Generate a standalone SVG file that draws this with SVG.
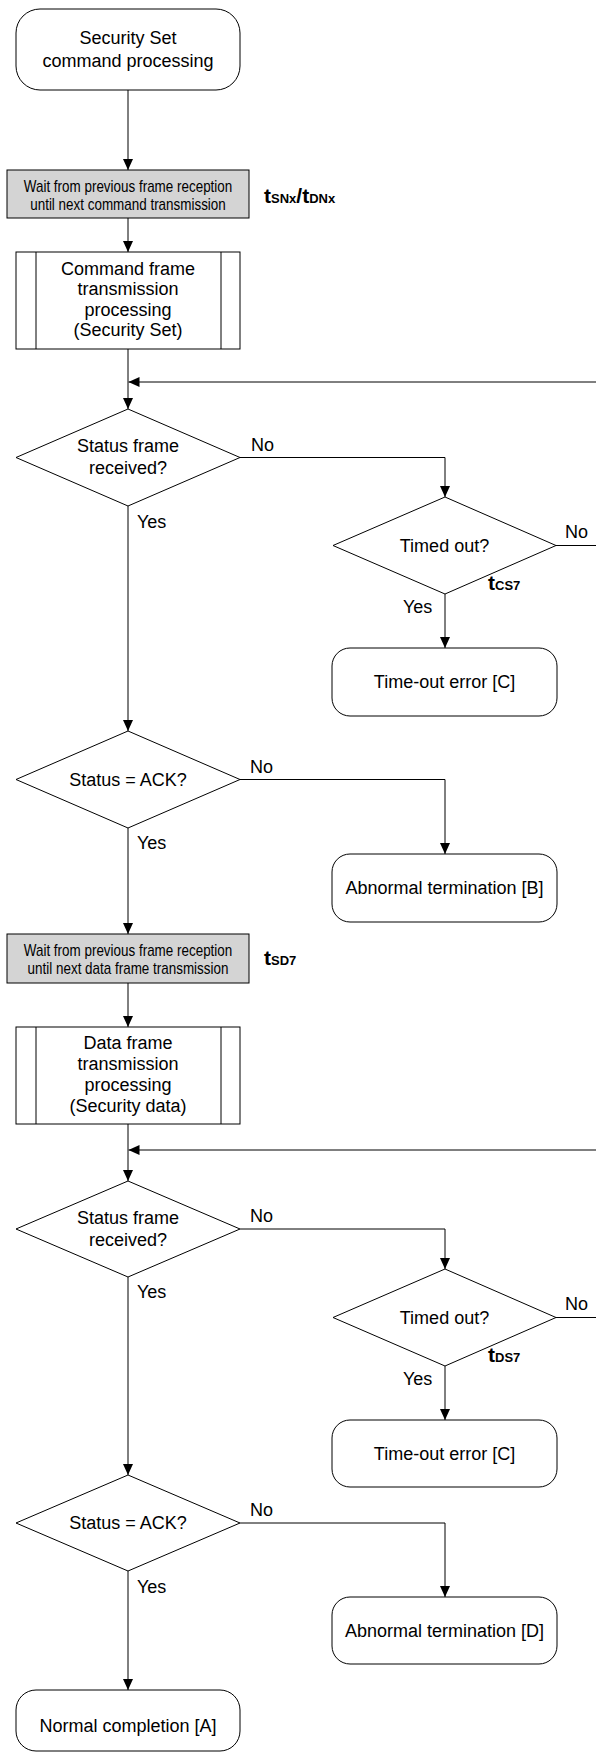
<svg xmlns="http://www.w3.org/2000/svg" width="596" height="1753" viewBox="0 0 596 1753">
<style>
  .shape { fill: #ffffff; stroke: #000000; stroke-width: 1; }
  .gray { fill: #d4d4d4; stroke: #000000; stroke-width: 1; }
  .conn { fill: none; stroke: #000000; stroke-width: 1; marker-end: url(#arrow); }
  .line { fill: none; stroke: #000000; stroke-width: 1; }
  .t { font-family: "Liberation Sans", Arial, sans-serif; font-size: 18px; fill: #000000; text-anchor: middle; }
  .lbl { font-family: "Liberation Sans", Arial, sans-serif; font-size: 18px; fill: #000000; }
  .w { font-family: "Liberation Sans", Arial, sans-serif; font-size: 16px; fill: #000000; text-anchor: middle; }
  .tm { font-family: "Liberation Sans", Arial, sans-serif; font-weight: bold; fill: #000000; }
  .big { font-size: 21px; }
  .sm { font-size: 13px; }
</style>
<defs>
  <marker id="arrow" markerUnits="userSpaceOnUse" markerWidth="11" markerHeight="10" refX="11" refY="5" orient="auto">
    <path d="M0,0 L11,5 L0,10 z" fill="#000000"/>
  </marker>
</defs>

<g id="connectors">
  <path class="conn" d="M128,90 V170"/>
  <path class="conn" d="M128,218 V252"/>
  <path class="conn" d="M128,349 V409"/>
  <path class="conn" d="M240,457.5 H445 V497"/>
  <path class="conn" d="M556,545.5 H598 V382 H128.5"/>
  <path class="conn" d="M445,594 V648"/>
  <path class="conn" d="M128,506 V731"/>
  <path class="conn" d="M240,779.5 H445 V854"/>
  <path class="conn" d="M128,828 V934"/>
  <path class="conn" d="M128,983 V1027"/>
  <path class="conn" d="M128,1124 V1181"/>
  <path class="conn" d="M240,1229 H445 V1269"/>
  <path class="conn" d="M556,1317.5 H598 V1150 H128.5"/>
  <path class="conn" d="M445,1366 V1420"/>
  <path class="conn" d="M128,1277 V1475"/>
  <path class="conn" d="M240,1523 H445 V1597"/>
  <path class="conn" d="M128,1571 V1690"/>
  <text class="lbl" x="251" y="450.5">No</text>
  <text class="lbl" x="137" y="528">Yes</text>
  <text class="lbl" x="565" y="538">No</text>
  <text class="lbl" x="403" y="613">Yes</text>
  <text class="lbl" x="250" y="772.5">No</text>
  <text class="lbl" x="137" y="849">Yes</text>
  <text class="lbl" x="250" y="1222">No</text>
  <text class="lbl" x="137" y="1298">Yes</text>
  <text class="lbl" x="565" y="1310">No</text>
  <text class="lbl" x="403" y="1385">Yes</text>
  <text class="lbl" x="250" y="1516">No</text>
  <text class="lbl" x="137" y="1593">Yes</text>
</g>

<g id="start">
  <rect class="shape" x="16" y="9" width="224" height="81" rx="24" ry="24"/>
  <text class="t" x="128" y="43.5">Security Set</text>
  <text class="t" x="128" y="66.5">command processing</text>
</g>

<g id="wait1">
  <rect class="gray" x="7" y="170" width="242" height="48"/>
  <text class="w" transform="translate(128,191.5) scale(0.84,1)" x="0" y="0">Wait from previous frame reception</text>
  <text class="w" transform="translate(128,210) scale(0.84,1)" x="0" y="0">until next command transmission</text>
  <text class="tm" x="264" y="203"><tspan class="big">t</tspan><tspan class="sm">SNx</tspan><tspan class="big">/t</tspan><tspan class="sm">DNx</tspan></text>
</g>

<g id="cmdframe">
  <rect class="shape" x="16" y="252" width="224" height="97"/>
  <line class="line" x1="36" y1="252" x2="36" y2="349"/>
  <line class="line" x1="221" y1="252" x2="221" y2="349"/>
  <text class="t" x="128" y="274.5">Command frame</text>
  <text class="t" x="128" y="295">transmission</text>
  <text class="t" x="128" y="315.5">processing</text>
  <text class="t" x="128" y="336">(Security Set)</text>
</g>

<g id="status1">
  <polygon class="shape" points="128,409 240,457.5 128,506 16,457.5"/>
  <text class="t" x="128" y="452">Status frame</text>
  <text class="t" x="128" y="474">received?</text>
</g>

<g id="timeout1">
  <polygon class="shape" points="445,497 556,545.5 445,594 333,545.5"/>
  <text class="t" x="444.5" y="551.5">Timed out?</text>
  <text class="tm" x="488" y="590"><tspan class="big">t</tspan><tspan class="sm">CS7</tspan></text>
</g>

<g id="terr1">
  <rect class="shape" x="332" y="648" width="225" height="68" rx="18" ry="18"/>
  <text class="t" x="444.5" y="688">Time-out error [C]</text>
</g>

<g id="ack1">
  <polygon class="shape" points="128,731 240,779.5 128,828 16,779.5"/>
  <text class="t" x="128" y="786">Status = ACK?</text>
</g>

<g id="abnB">
  <rect class="shape" x="332" y="854" width="225" height="68" rx="18" ry="18"/>
  <text class="t" x="444.5" y="893.5">Abnormal termination [B]</text>
</g>

<g id="wait2">
  <rect class="gray" x="7" y="934" width="242" height="49"/>
  <text class="w" transform="translate(128,955.5) scale(0.84,1)" x="0" y="0">Wait from previous frame reception</text>
  <text class="w" transform="translate(128,974) scale(0.84,1)" x="0" y="0">until next data frame transmission</text>
  <text class="tm" x="264" y="965"><tspan class="big">t</tspan><tspan class="sm">SD7</tspan></text>
</g>

<g id="dataframe">
  <rect class="shape" x="16" y="1027" width="224" height="97"/>
  <line class="line" x1="36" y1="1027" x2="36" y2="1124"/>
  <line class="line" x1="221" y1="1027" x2="221" y2="1124"/>
  <text class="t" x="128" y="1048.5">Data frame</text>
  <text class="t" x="128" y="1069.5">transmission</text>
  <text class="t" x="128" y="1090.5">processing</text>
  <text class="t" x="128" y="1111.5">(Security data)</text>
</g>

<g id="status2">
  <polygon class="shape" points="128,1181 240,1229 128,1277 16,1229"/>
  <text class="t" x="128" y="1223.5">Status frame</text>
  <text class="t" x="128" y="1245.5">received?</text>
</g>

<g id="timeout2">
  <polygon class="shape" points="445,1269 556,1317.5 445,1366 333,1317.5"/>
  <text class="t" x="444.5" y="1323.5">Timed out?</text>
  <text class="tm" x="488" y="1362"><tspan class="big">t</tspan><tspan class="sm">DS7</tspan></text>
</g>

<g id="terr2">
  <rect class="shape" x="332" y="1420" width="225" height="67" rx="18" ry="18"/>
  <text class="t" x="444.5" y="1459.5">Time-out error [C]</text>
</g>

<g id="ack2">
  <polygon class="shape" points="128,1475 240,1523 128,1571 16,1523"/>
  <text class="t" x="128" y="1529">Status = ACK?</text>
</g>

<g id="abnD">
  <rect class="shape" x="332" y="1597" width="225" height="67" rx="18" ry="18"/>
  <text class="t" x="444.5" y="1637">Abnormal termination [D]</text>
</g>

<g id="normal">
  <rect class="shape" x="16" y="1690" width="224" height="61" rx="20" ry="20"/>
  <text class="t" x="128" y="1731.5">Normal completion [A]</text>
</g>
</svg>
